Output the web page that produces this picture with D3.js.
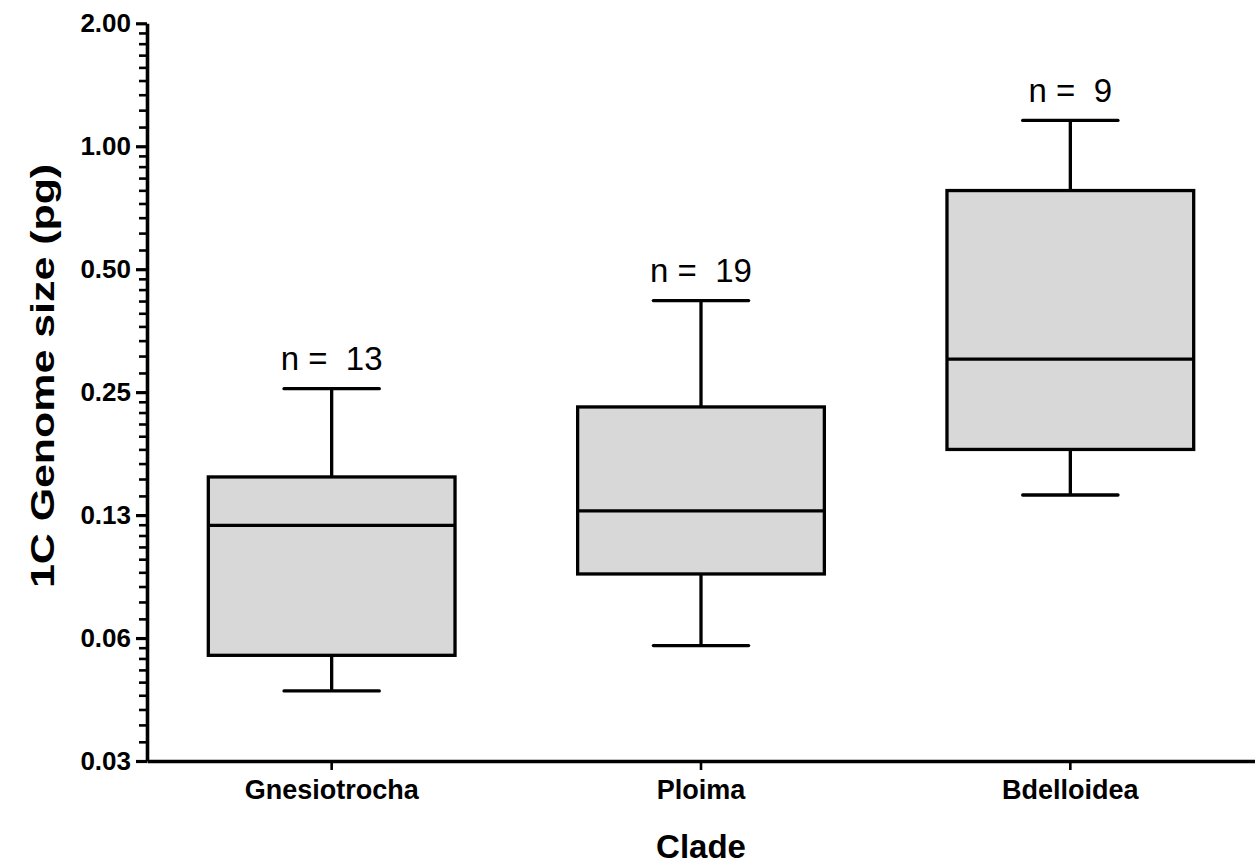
<!DOCTYPE html>
<html>
<head>
<meta charset="utf-8">
<script src="https://cdn.jsdelivr.net/npm/d3@7"></script>
<style>
  html, body { margin: 0; padding: 0; background: #fff; }
  svg { display: block; }
  text { font-family: "Liberation Sans", Arial, sans-serif; fill: #000; }
</style>
</head>
<body>
<svg id="chart" width="1255" height="864"></svg>
<script>
// Genome size summary per rotifer clade (pg, 1C)
const clades = ["Gnesiotrocha", "Ploima", "Bdelloidea"];
const whiskerLow = [0.0464, 0.0599, 0.140];
const quartile1 = [0.0567, 0.0897, 0.181];
const medians = [0.118, 0.128, 0.301];
const quartile3 = [0.155, 0.230, 0.779];
const whiskerHigh = [0.255, 0.419, 1.157];
const counts = [13, 19, 9];

const yTickValues = [0.03125, 0.0625, 0.125, 0.25, 0.5, 1, 2];
const yTickLabels = ["0.03", "0.06", "0.13", "0.25", "0.50", "1.00", "2.00"];

const rows = clades.map((c, i) => ({
  clade: c, lo: whiskerLow[i], q1: quartile1[i], med: medians[i],
  q3: quartile3[i], hi: whiskerHigh[i], n: counts[i]
}));

const svg = d3.select("#chart");
const plotLeft = 147, plotRight = 1255, plotTop = 23.3, plotBottom = 761;

const x = d3.scaleBand().domain(clades).range([plotLeft, plotRight]);
const y = d3.scaleLog().base(2)
  .domain([yTickValues[0], yTickValues[yTickValues.length - 1]])
  .range([plotBottom, plotTop]);

// minor ticks: eight evenly spaced values inside each octave
const minorTicks = [];
for (let i = 0; i < yTickValues.length - 1; i++) {
  const a = yTickValues[i];
  for (let k = 1; k <= 8; k++) minorTicks.push(a + k * a / 9);
}

const boxW = x.bandwidth() * 0.668;
const capW = x.bandwidth() * 0.258;
const sw = 3.3;

const g = svg.append("g");

const box = g.selectAll(".box").data(rows).enter().append("g").attr("class", "box")
  .attr("transform", d => `translate(${x(d.clade) + x.bandwidth() / 2},0)`);

// whiskers and caps
box.append("line").attr("x1", 0).attr("x2", 0)
  .attr("y1", d => y(d.hi)).attr("y2", d => y(d.q3))
  .attr("stroke", "#000").attr("stroke-width", sw);
box.append("line").attr("x1", 0).attr("x2", 0)
  .attr("y1", d => y(d.q1)).attr("y2", d => y(d.lo))
  .attr("stroke", "#000").attr("stroke-width", sw);
box.append("line").attr("x1", -capW / 2).attr("x2", capW / 2)
  .attr("y1", d => y(d.hi)).attr("y2", d => y(d.hi))
  .attr("stroke", "#000").attr("stroke-width", sw).attr("stroke-linecap", "round");
box.append("line").attr("x1", -capW / 2).attr("x2", capW / 2)
  .attr("y1", d => y(d.lo)).attr("y2", d => y(d.lo))
  .attr("stroke", "#000").attr("stroke-width", sw).attr("stroke-linecap", "round");

// interquartile box and median
box.append("rect")
  .attr("x", -boxW / 2).attr("width", boxW)
  .attr("y", d => y(d.q3)).attr("height", d => y(d.q1) - y(d.q3))
  .attr("fill", "#d8d8d8").attr("stroke", "#000").attr("stroke-width", sw);
box.append("line").attr("x1", -boxW / 2).attr("x2", boxW / 2)
  .attr("y1", d => y(d.med)).attr("y2", d => y(d.med))
  .attr("stroke", "#000").attr("stroke-width", sw);

// sample size labels
box.append("text")
  .attr("x", 0).attr("y", d => y(d.hi) - 18.5)
  .attr("text-anchor", "middle")
  .style("font-size", "33px")
  .style("white-space", "pre")
  .text(d => "n =  " + d.n);

// y axis
const yAxis = g.append("g").attr("transform", `translate(${plotLeft},0)`);
yAxis.selectAll(".minor").data(minorTicks).enter().append("line")
  .attr("x1", -8).attr("x2", 0)
  .attr("y1", d => y(d)).attr("y2", d => y(d))
  .attr("stroke", "#000").attr("stroke-width", 2.6);
yAxis.call(d3.axisLeft(y).tickValues(yTickValues)
    .tickFormat((d, i) => yTickLabels[i]).tickSize(11).tickPadding(5).tickSizeOuter(0))
  .call(s => s.select(".domain").attr("stroke-width", 3.6))
  .call(s => s.selectAll(".tick line").attr("stroke-width", 3.2))
  .call(s => s.selectAll(".tick text")
    .style("font-family", "'Liberation Sans', Arial, sans-serif")
    .style("font-size", "26px").style("font-weight", "bold").attr("fill", "#000"));

// x axis
const xAxis = g.append("g").attr("transform", `translate(0,${plotBottom})`);
xAxis.call(d3.axisBottom(x).tickSize(9).tickPadding(10).tickSizeOuter(0))
  .call(s => s.select(".domain").attr("stroke-width", 3.6))
  .call(s => s.selectAll(".tick line").attr("stroke-width", 2.6))
  .call(s => s.selectAll(".tick text")
    .style("font-family", "'Liberation Sans', Arial, sans-serif")
    .style("font-size", "27px").style("font-weight", "bold").attr("fill", "#000"));

// axis titles
svg.append("text")
  .attr("x", (plotLeft + plotRight) / 2).attr("y", 858)
  .attr("text-anchor", "middle")
  .style("font-size", "33px").style("font-weight", "bold")
  .text("Clade");

svg.append("text")
  .attr("transform", `translate(54,376) rotate(-90) scale(1.3,1)`)
  .attr("text-anchor", "middle")
  .style("font-size", "33px").style("font-weight", "bold")
  .text("1C Genome size (pg)");
</script>
</body>
</html>
